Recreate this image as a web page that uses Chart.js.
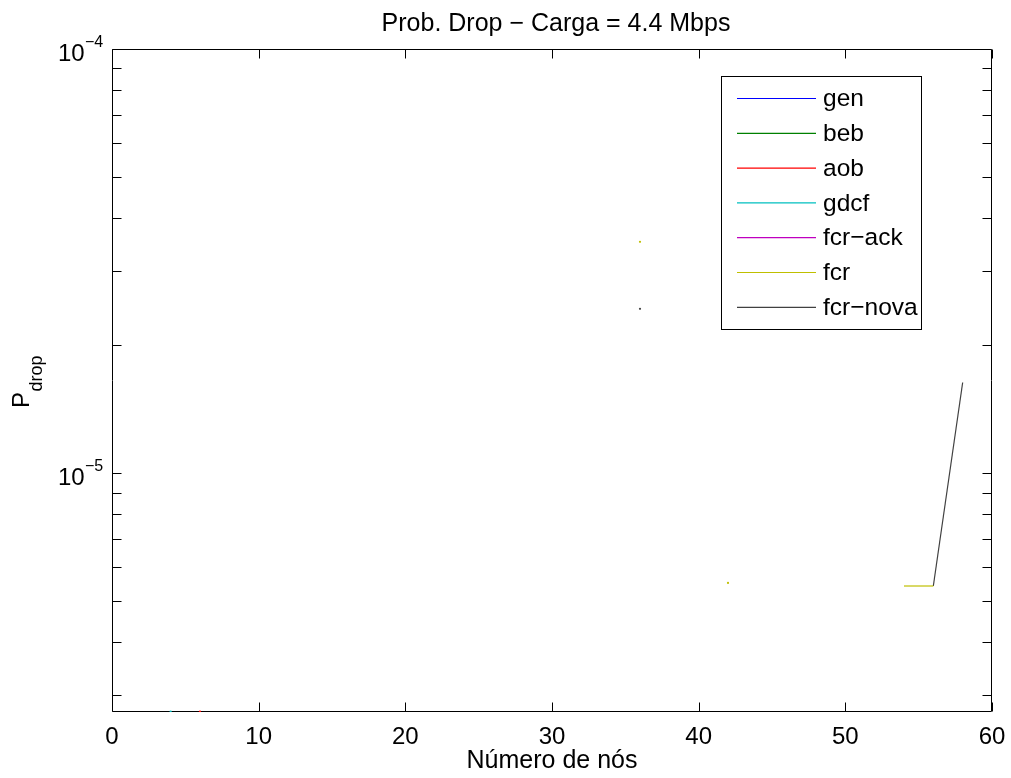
<!DOCTYPE html>
<html>
<head>
<meta charset="utf-8">
<script src="https://cdn.jsdelivr.net/npm/chart.js@4/dist/chart.umd.min.js"></script>
<style>
html,body{margin:0;padding:0;background:#fff;}
#wrap{width:1011px;height:778px;}
</style>
</head>
<body>
<div id="wrap"><canvas id="c" width="1011" height="778"></canvas></div>
<script>
// ---- data ----
const nodes = [2,4,6,8,10,12,14,16,18,20,22,24,26,28,30,32,34,36,38,40,42,44,46,48,50,52,54,56,58,60];
const gen    = [null,null,null,null,null,null,null,null,null,null,null,null,null,null,null,null,null,null,null,null,null,null,null,null,null,null,null,null,null,null];
const beb    = [null,null,null,null,null,null,null,null,null,null,null,null,null,null,null,null,null,null,null,null,null,null,null,null,null,null,null,null,null,null];
const aob    = [null,null,2.74e-6,null,null,null,null,null,null,null,null,null,null,null,null,null,null,null,null,null,null,null,null,null,null,null,null,null,null,null];
const gdcf   = [null,2.74e-6,null,null,null,null,null,null,null,null,null,null,null,null,null,null,null,null,null,null,null,null,null,null,null,null,null,null,null,null];
const fcrAck = [null,null,null,null,null,null,null,null,null,null,null,null,null,null,null,null,null,null,null,null,null,null,null,null,null,null,null,null,null,null];
const fcr    = [null,null,null,null,null,null,null,null,null,null,null,null,null,null,null,null,null,3.51e-5,null,null,5.51e-6,null,null,null,null,null,5.42e-6,5.42e-6,null,null];
const fcrNova= [null,null,null,null,null,null,null,null,null,null,null,null,null,null,null,null,null,2.44e-5,null,null,null,null,null,null,null,null,null,5.42e-6,1.636e-5,null];

const seriesNames = ['gen','beb','aob','gdcf','fcr\u2212ack','fcr','fcr\u2212nova'];
const seriesData = [gen,beb,aob,gdcf,fcrAck,fcr,fcrNova];
const seriesColors = ['#0000ff','#008000','#ff0000','#00bfbf','#bf00bf','#bfbf00','#404040'];

const xTicks = [0,10,20,30,40,50,60];
const yTicks = [3e-6,4e-6,5e-6,6e-6,7e-6,8e-6,9e-6,1e-5,2e-5,3e-5,4e-5,5e-5,6e-5,7e-5,8e-5,9e-5,1e-4];
const yLabelValues = [1e-5,1e-4];
const yLabelExps = ['\u22125','\u22124'];

const titleText = 'Prob. Drop \u2212 Carga = 4.4 Mbps';
const xLabelText = 'N\u00famero de n\u00f3s';
const yLabelMain = 'P';
const yLabelSub = 'drop';

const FONT = '"Liberation Sans", Arial, Helvetica, sans-serif';

function isolated(arr, i){
  return arr[i] != null && (i===0 || arr[i-1]==null) && (i===arr.length-1 || arr[i+1]==null);
}

const datasets = seriesData.map((arr, k) => ({
  label: seriesNames[k],
  data: arr.map((v, i) => ({x: nodes[i], y: v})),
  borderColor: seriesColors[k],
  backgroundColor: seriesColors[k],
  borderWidth: 1.2,
  spanGaps: false,
  pointRadius: ctx => isolated(arr, ctx.dataIndex) ? 1.1 : 0,
  pointBorderWidth: 0,
  pointHoverRadius: 0,
  tension: 0
}));

const deco = {
  id: 'deco',
  beforeDatasetsDraw(chart){
    const ctx = chart.ctx, a = chart.chartArea;
    const xs = chart.scales.x, ys = chart.scales.y;
    ctx.save();
    ctx.strokeStyle = '#000';
    ctx.lineWidth = 1;
    const L = Math.round(a.left)+0.5, R = Math.round(a.right)-0.5, T = Math.round(a.top)+0.5, B = Math.round(a.bottom)-0.5;
    ctx.beginPath();
    ctx.rect(L, T, R-L, B-T);
    ctx.stroke();
    const tl = 9;
    ctx.beginPath();
    xTicks.forEach(v => {
      const px = Math.round(xs.getPixelForValue(v)) + 0.5;
      ctx.moveTo(px, B); ctx.lineTo(px, B - tl);
      ctx.moveTo(px, T); ctx.lineTo(px, T + tl);
    });
    yTicks.forEach(v => {
      const py = Math.round(ys.getPixelForValue(v)) + 0.5;
      ctx.moveTo(L, py); ctx.lineTo(L + tl, py);
      ctx.moveTo(R, py); ctx.lineTo(R - tl, py);
    });
    ctx.stroke();
    ctx.restore();
  },
  afterDraw(chart){
    const ctx = chart.ctx, a = chart.chartArea;
    const xs = chart.scales.x, ys = chart.scales.y;
    ctx.save();
    ctx.fillStyle = '#000';
    // title
    ctx.font = '25px ' + FONT;
    ctx.textAlign = 'center';
    ctx.textBaseline = 'alphabetic';
    ctx.fillText(titleText, 556, 31);
    // x tick labels
    ctx.font = '24px ' + FONT;
    xTicks.forEach(v => {
      ctx.fillText(String(v), xs.getPixelForValue(v), 744);
    });
    // x label
    ctx.font = '25px ' + FONT;
    ctx.fillText(xLabelText, 552, 768);
    // y tick labels
    ctx.textAlign = 'left';
    yLabelValues.forEach((v, i) => {
      const py = ys.getPixelForValue(v);
      ctx.font = '24px ' + FONT;
      ctx.fillText('10', 58, py + 11.5);
      ctx.font = '16px ' + FONT;
      ctx.fillText(yLabelExps[i], 85, py - 2);
    });
    // y label
    ctx.save();
    ctx.translate(29, 408);
    ctx.rotate(-Math.PI/2);
    ctx.font = '24px ' + FONT;
    ctx.fillText(yLabelMain, 0, 0);
    const pw = ctx.measureText(yLabelMain).width;
    ctx.font = '18px ' + FONT;
    ctx.fillText(yLabelSub, pw + 0.5, 13);
    ctx.restore();
    // legend
    const bx = 721.5, by = 76.5, bw = 200, bh = 253;
    ctx.fillStyle = '#fff';
    ctx.fillRect(bx, by, bw, bh);
    ctx.strokeStyle = '#000';
    ctx.lineWidth = 1;
    ctx.strokeRect(bx, by, bw, bh);
    ctx.font = '24.5px ' + FONT;
    ctx.textBaseline = 'middle';
    seriesNames.forEach((n, i) => {
      const ry = 98.5 + i * 34.8;
      ctx.strokeStyle = seriesColors[i];
      ctx.lineWidth = 1.2;
      ctx.beginPath();
      ctx.moveTo(737, ry); ctx.lineTo(816, ry);
      ctx.stroke();
      ctx.fillStyle = '#000';
      ctx.fillText(n, 823, ry + 1);
    });
    ctx.restore();
  }
};

new Chart(document.getElementById('c'), {
  type: 'line',
  data: { datasets },
  options: {
    responsive: false,
    animation: false,
    events: [],
    layout: { padding: { left: 112, top: 49, right: 19, bottom: 66 } },
    plugins: { legend: { display: false }, title: { display: false }, tooltip: { enabled: false } },
    scales: {
      x: { type: 'linear', min: 0, max: 60, display: false },
      y: { type: 'logarithmic', min: 2.735e-6, max: 1e-4, display: false }
    }
  },
  plugins: [deco]
});
</script>
</body>
</html>
